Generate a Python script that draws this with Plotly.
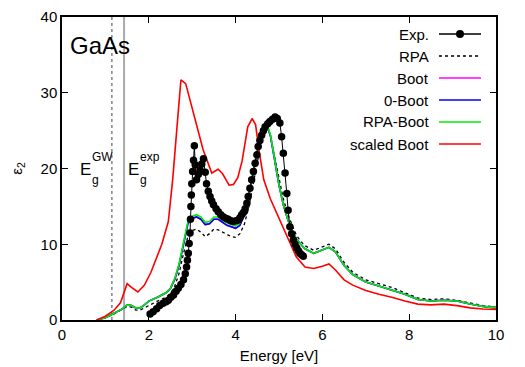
import plotly.graph_objects as go

# ---------------- data ----------------
E_GW = 1.15
E_EXP = 1.43

exp_E = [2.03, 2.10, 2.18, 2.25, 2.33, 2.40, 2.45, 2.51, 2.57, 2.63, 2.68, 2.74, 2.80, 2.84, 2.87, 2.89,
         2.91, 2.93, 2.95, 2.96, 2.97, 2.98, 2.99, 3.01, 3.03, 3.05, 3.07, 3.10, 3.14, 3.18, 3.22, 3.26,
         3.30, 3.33, 3.37, 3.41, 3.45, 3.49, 3.55, 3.60, 3.66, 3.72, 3.78, 3.83, 3.89, 3.95, 4.01, 4.06,
         4.10, 4.14, 4.18, 4.22, 4.26, 4.29, 4.33, 4.37, 4.41, 4.45, 4.49, 4.52, 4.56, 4.60, 4.64, 4.68,
         4.74, 4.79, 4.85, 4.91, 4.96, 5.02, 5.06, 5.10, 5.14, 5.18, 5.21, 5.25, 5.29, 5.33, 5.37, 5.41,
         5.45, 5.48, 5.52, 5.56]
exp_eps = [0.8, 1.1, 1.5, 1.9, 2.2, 2.4, 2.6, 3.0, 3.3, 3.8, 4.2, 4.7, 5.3, 6.1, 7.0, 7.9,
           8.8, 10.1, 11.5, 13.3, 15.0, 16.5, 18.0, 19.6, 21.1, 23.0, 20.5, 18.5, 19.2, 19.8, 20.6, 21.3,
           19.5, 18.0, 17.0, 16.3, 15.7, 15.2, 14.7, 14.3, 13.9, 13.6, 13.4, 13.3, 13.1, 13.0, 13.1, 13.2,
           13.5, 13.9, 14.2, 14.7, 15.4, 16.3, 17.4, 18.5, 19.6, 20.7, 21.8, 22.9, 23.7, 24.4, 25.0, 25.5,
           25.9, 26.2, 26.5, 26.8, 26.6, 26.0, 24.2, 22.0, 19.4, 16.7, 14.5, 12.3, 11.4, 10.6, 10.0, 9.5,
           9.1, 8.8, 8.6, 8.4]

calc_E = [0.8, 1.0, 1.2, 1.4, 1.5, 1.6, 1.7, 1.8, 1.9, 2.0, 2.2, 2.4, 2.5, 2.6, 2.7, 2.8, 2.9, 3.0,
          3.1, 3.2, 3.3, 3.4, 3.5, 3.6, 3.7, 3.8, 3.9, 4.0, 4.1, 4.2, 4.3, 4.4, 4.5, 4.6, 4.7, 4.8,
          4.9, 5.0, 5.1, 5.2, 5.3, 5.4, 5.5, 5.6, 5.8, 6.0, 6.15, 6.3, 6.5, 6.7, 7.0, 7.3, 7.6, 7.9,
          8.2, 8.5, 8.8, 9.1, 9.4, 9.7, 10.0]
rpa_eps = [0.0, 0.3, 0.8, 1.4, 1.8, 1.7, 1.3, 1.3, 1.6, 2.0, 2.5, 3.0, 3.5, 4.5, 6.2, 8.8, 11.0, 11.8,
           12.0, 11.6, 11.0, 11.4, 12.0, 11.9, 11.6, 11.2, 11.0, 10.9, 11.4, 12.6, 14.8, 17.8, 21.0, 23.8, 25.5, 24.5,
           21.5, 18.5, 16.0, 14.0, 12.5, 11.2, 10.4, 9.8, 9.2, 9.6, 10.0, 9.4, 7.6, 6.3, 5.3, 4.8, 4.3, 3.6,
           2.9, 2.7, 2.8, 2.6, 2.2, 1.9, 1.7]
boot_eps = [0.0, 0.3, 0.9, 1.5, 2.0, 1.9, 1.6, 1.6, 2.0, 2.5, 3.0, 3.6, 4.2, 5.4, 7.3, 10.2, 12.7, 13.4,
            13.6, 13.3, 12.6, 12.7, 13.3, 13.3, 12.9, 12.5, 12.3, 12.1, 12.5, 13.9, 16.2, 19.2, 22.2, 24.6, 26.0, 24.4,
            21.0, 17.8, 15.2, 13.3, 11.8, 10.7, 10.0, 9.4, 8.8, 9.2, 9.6, 9.0, 7.2, 6.0, 5.0, 4.5, 4.0, 3.4,
            2.7, 2.5, 2.6, 2.5, 2.1, 1.8, 1.6]
zboot_eps = [0.0, 0.3, 0.9, 1.5, 2.0, 1.9, 1.6, 1.6, 2.0, 2.5, 3.0, 3.6, 4.2, 5.4, 7.3, 10.2, 12.7, 13.4,
             13.6, 13.3, 12.6, 12.7, 13.3, 13.3, 12.9, 12.5, 12.3, 12.1, 12.5, 13.9, 16.2, 19.2, 22.2, 24.6, 26.0, 24.4,
             21.0, 17.8, 15.2, 13.3, 11.8, 10.7, 10.0, 9.4, 8.8, 9.2, 9.6, 9.0, 7.2, 6.0, 5.0, 4.5, 4.0, 3.4,
             2.7, 2.5, 2.6, 2.5, 2.1, 1.8, 1.6]
rpaboot_eps = [0.0, 0.3, 0.9, 1.5, 2.0, 1.9, 1.6, 1.6, 2.0, 2.5, 3.0, 3.6, 4.2, 5.5, 7.5, 10.5, 13.0, 13.7,
               13.9, 13.6, 12.9, 13.0, 13.6, 13.6, 13.2, 12.8, 12.6, 12.4, 12.8, 14.2, 16.5, 19.5, 22.5, 24.8, 26.2, 24.5,
               21.0, 17.8, 15.2, 13.3, 11.8, 10.7, 10.0, 9.4, 8.8, 9.2, 9.6, 9.0, 7.2, 6.0, 5.0, 4.5, 4.0, 3.4,
               2.7, 2.5, 2.6, 2.5, 2.1, 1.8, 1.6]

scaled_E = [0.8, 1.0, 1.2, 1.35, 1.5, 1.6, 1.75, 1.9, 2.05, 2.3, 2.45, 2.55, 2.65, 2.74, 2.85, 3.0, 3.1,
            3.25, 3.45, 3.6, 3.7, 3.85, 3.95, 4.05, 4.15, 4.28, 4.38, 4.46, 4.55, 4.65, 4.8, 5.0, 5.2,
            5.4, 5.6, 5.8, 6.0, 6.15, 6.3, 6.5, 6.7, 7.0, 7.3, 7.6, 7.9, 8.2, 8.5, 8.8, 9.1, 9.4, 9.7, 10.0]
scaled_eps = [0.0, 0.5, 1.3, 2.3, 4.8, 4.3, 3.7, 4.6, 6.3, 10.0, 13.0, 18.5, 25.5, 31.7, 31.2, 28.0, 25.5,
              22.5, 19.4, 19.9, 19.3, 17.8, 17.9, 18.8, 21.0, 25.5, 26.6, 25.8, 22.0, 18.5, 16.0, 13.5, 10.8,
              8.3, 7.0, 6.8, 7.1, 7.4, 6.6, 5.3, 4.6, 3.9, 3.4, 3.0, 2.5, 2.1, 2.0, 2.1, 1.9, 1.6, 1.45, 1.4]

legend_names = ["Exp.", "RPA", "Boot", "0-Boot", "RPA-Boot", "scaled Boot"]
legend_colors = ["black", "black", "#ff00ff", "#0000ff", "#00ee00", "#ff0000"]
legend_dash = ["solid", "dot", "solid", "solid", "solid", "solid"]

# ---------------- figure ----------------
W, H = 525, 367
ML, MR, MT, MB = 62, 29, 17, 47
PW, PH = W - ML - MR, H - MT - MB
FONT = "Liberation Sans, Arial, Helvetica, sans-serif"

fig = go.Figure()

fig.add_trace(go.Scatter(x=calc_E, y=rpa_eps, mode="lines", name="RPA",
                         line=dict(color="black", width=1.3, dash="dot")))
fig.add_trace(go.Scatter(x=calc_E, y=boot_eps, mode="lines", name="Boot",
                         line=dict(color="#ff00ff", width=1.6)))
fig.add_trace(go.Scatter(x=calc_E, y=zboot_eps, mode="lines", name="0-Boot",
                         line=dict(color="#0000ff", width=1.6)))
fig.add_trace(go.Scatter(x=calc_E, y=rpaboot_eps, mode="lines", name="RPA-Boot",
                         line=dict(color="#00ee00", width=1.6)))
fig.add_trace(go.Scatter(x=scaled_E, y=scaled_eps, mode="lines", name="scaled Boot",
                         line=dict(color="#ff0000", width=1.6)))
fig.add_trace(go.Scatter(x=exp_E, y=exp_eps, mode="lines+markers", name="Exp.",
                         line=dict(color="black", width=1),
                         marker=dict(color="black", size=7.5)))

shapes = [
    dict(type="line", xref="x", yref="paper", x0=E_GW, x1=E_GW, y0=0, y1=1,
         line=dict(color="#444444", width=1, dash="dot"), layer="below"),
    dict(type="line", xref="x", yref="paper", x0=E_EXP, x1=E_EXP, y0=0, y1=1,
         line=dict(color="#aaaaaa", width=2), layer="below"),
]

annotations = []


def px2paper(px, py):
    return (px - ML) / PW, (MT + PH - py) / PH


# manual legend (gnuplot style: text right, sample to the right)
for i, (nm, col, dsh) in enumerate(zip(legend_names, legend_colors, legend_dash)):
    py = 34 + 22 * i
    tx, ty = px2paper(431, py)
    x0, _ = px2paper(439, py)
    x1, _ = px2paper(481, py)
    annotations.append(dict(x=tx, y=ty, xref="paper", yref="paper", text=nm, showarrow=False,
                            xanchor="right", yanchor="middle", font=dict(size=15, color="black", family=FONT)))
    shapes.append(dict(type="line", xref="paper", yref="paper", x0=x0, x1=x1, y0=ty, y1=ty,
                       line=dict(color=col, width=1.6 if dsh == "solid" else 1.5, dash=dsh)))
    if i == 0:
        cx, _ = px2paper(460, py)
        shapes.append(dict(type="circle", xref="paper", yref="paper", xsizemode="pixel", ysizemode="pixel",
                           xanchor=cx, yanchor=ty, x0=-4, x1=4, y0=-4, y1=4,
                           fillcolor="black", line=dict(color="black", width=0)))


def ann(px, py, text, size, xanchor="left"):
    x, y = px2paper(px, py)
    annotations.append(dict(x=x, y=y, xref="paper", yref="paper", text=text, showarrow=False,
                            xanchor=xanchor, yanchor="middle", font=dict(size=size, color="black", family=FONT)))


ann(68, 45, "GaAs", 24)
# E_g^GW
ann(78, 169, "E", 17)
ann(90, 180, "g", 12)
ann(90, 157, "GW", 12)
# E_g^exp
ann(126, 169, "E", 17)
ann(138, 180, "g", 12)
ann(138, 157, "exp", 12)

axis_common = dict(showgrid=False, zeroline=False, showline=True, linecolor="black", linewidth=1.5,
                   mirror="ticks", ticks="inside", ticklen=6, tickwidth=1, tickcolor="black",
                   automargin=False,
                   tickfont=dict(size=15, color="black", family=FONT))

fig.update_layout(
    width=W, height=H,
    margin=dict(l=ML, r=MR, t=MT, b=MB),
    paper_bgcolor="white", plot_bgcolor="white",
    showlegend=False,
    shapes=shapes, annotations=annotations,
    xaxis=dict(range=[0, 10], tickvals=[0, 2, 4, 6, 8, 10],
               title=dict(text="Energy [eV]", font=dict(size=15, color="black", family=FONT), standoff=9),
               **axis_common),
    yaxis=dict(range=[0, 40], tickvals=[0, 10, 20, 30, 40],
               title=dict(text="ε<sub>2</sub>", font=dict(size=15, color="black", family=FONT), standoff=14),
               **axis_common),
)

fig.write_html("out.html")
